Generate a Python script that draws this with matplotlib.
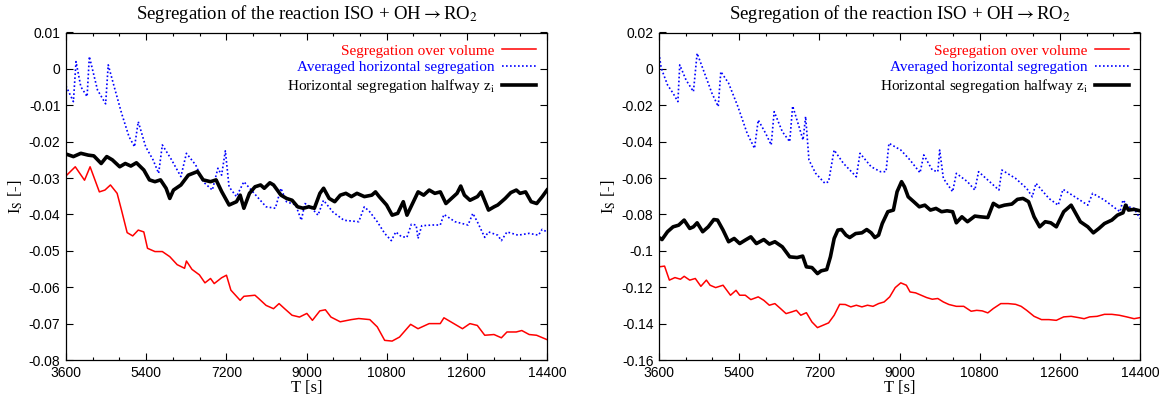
import matplotlib
matplotlib.use("Agg")
import matplotlib.pyplot as plt
from matplotlib.ticker import MultipleLocator, FuncFormatter

# fonts: Times-like serif for text, Arial-like sans for tick labels
plt.rcParams['font.family'] = ['Liberation Serif', 'DejaVu Serif']
plt.rcParams['mathtext.fontset'] = 'stix'
plt.rcParams['axes.unicode_minus'] = False

# ---------------- left panel data ----------------
t_red_l = [3600, 3808, 4016, 4141, 4349, 4474, 4598, 4748, 4848, 4973, 5098, 5222, 5347, 5430,
           5597, 5763, 5930, 6096, 6262, 6304, 6429, 6595, 6720, 6845, 6928, 7094, 7203, 7302,
           7510, 7594, 7843, 7926, 8093, 8259, 8384, 8509, 8675, 8842, 9008, 9133, 9299, 9424,
           9549, 9757, 10006, 10173, 10422, 10589, 10755, 10922, 11088, 11338, 11504, 11754,
           12003, 12086, 12336, 12502, 12669, 12835, 13002, 13210, 13376, 13501, 13709, 13834,
           14000, 14166, 14400]
v_red_l = [-0.0294, -0.0269, -0.0306, -0.0269, -0.0338, -0.0333, -0.0319, -0.0342, -0.0389,
           -0.0450, -0.0459, -0.0443, -0.0448, -0.0493, -0.0502, -0.0502, -0.0516, -0.0538,
           -0.0548, -0.0528, -0.0551, -0.0566, -0.0588, -0.0576, -0.0590, -0.0574, -0.0567,
           -0.0608, -0.0636, -0.0625, -0.0622, -0.0631, -0.0650, -0.0659, -0.0645, -0.0659,
           -0.0677, -0.0682, -0.0672, -0.0691, -0.0665, -0.0662, -0.0682, -0.0695, -0.0689,
           -0.0686, -0.0689, -0.0709, -0.0746, -0.0748, -0.0737, -0.0702, -0.0714, -0.0700,
           -0.0700, -0.0684, -0.0702, -0.0714, -0.0700, -0.0705, -0.0732, -0.0730, -0.0739,
           -0.0723, -0.0723, -0.0719, -0.0730, -0.0732, -0.0744]

t_blue_l = [3600, 3766, 3825, 3933, 4074, 4124, 4307, 4490, 4548, 4682, 4848, 5014, 5139, 5222,
            5389, 5555, 5680, 5763, 5971, 6179, 6304, 6512, 6678, 6886, 7011, 7094, 7178, 7261,
            7427, 7594, 7760, 7926, 8093, 8301, 8426, 8550, 8758, 8883, 8966, 9091, 9258, 9382,
            9590, 9840, 10173, 10298, 10422, 10589, 10755, 10905, 11005, 11130, 11254, 11354,
            11462, 11504, 11587, 11837, 12003, 12086, 12336, 12627, 12735, 12835, 13002, 13085,
            13293, 13376, 13501, 13750, 14000, 14208, 14291, 14400]
v_blue_l = [-0.0047, -0.0090, 0.0020, -0.0049, -0.0076, 0.0034, -0.0058, -0.0096, 0.0011,
            -0.0049, -0.0122, -0.0186, -0.0214, -0.0145, -0.0214, -0.0250, -0.0287, -0.0209,
            -0.0250, -0.0296, -0.0232, -0.0264, -0.0310, -0.0333, -0.0273, -0.0292, -0.0225,
            -0.0324, -0.0351, -0.0310, -0.0333, -0.0356, -0.0379, -0.0383, -0.0328, -0.0365,
            -0.0374, -0.0416, -0.0370, -0.0379, -0.0402, -0.0361, -0.0393, -0.0416, -0.0420,
            -0.0379, -0.0393, -0.0420, -0.0452, -0.0472, -0.0448, -0.0461, -0.0463, -0.0427,
            -0.0429, -0.0466, -0.0431, -0.0429, -0.0429, -0.0400, -0.0420, -0.0429, -0.0397,
            -0.0420, -0.0463, -0.0448, -0.0457, -0.0472, -0.0448, -0.0457, -0.0452, -0.0457,
            -0.0441, -0.0448]

t_blk_l = [3600, 3766, 3933, 4099, 4224, 4390, 4515, 4640, 4806, 4931, 5056, 5181, 5348, 5473,
           5597, 5722, 5847, 5930, 6013, 6180, 6346, 6554, 6679, 6845, 6970, 7095, 7262, 7428,
           7511, 7594, 7719, 7844, 7969, 8052, 8177, 8260, 8427, 8552, 8676, 8801, 8926, 9051,
           9176, 9301, 9384, 9509, 9634, 9759, 9884, 10008, 10133, 10299, 10466, 10549, 10632,
           10798, 10923, 11048, 11173, 11256, 11381, 11506, 11631, 11756, 11881, 12005, 12130,
           12255, 12380, 12463, 12546, 12671, 12838, 12921, 13087, 13212, 13295, 13462, 13587,
           13711, 13795, 13919, 14044, 14169, 14294, 14400]
v_blk_l = [-0.0234, -0.0241, -0.0232, -0.0237, -0.0239, -0.0260, -0.0241, -0.0250, -0.0269,
           -0.0260, -0.0267, -0.0258, -0.0278, -0.0305, -0.0310, -0.0305, -0.0328, -0.0356,
           -0.0333, -0.0319, -0.0292, -0.0282, -0.0305, -0.0310, -0.0305, -0.0337, -0.0374,
           -0.0365, -0.0347, -0.0383, -0.0342, -0.0324, -0.0319, -0.0328, -0.0313, -0.0319,
           -0.0347, -0.0356, -0.0361, -0.0379, -0.0383, -0.0379, -0.0383, -0.0342, -0.0328,
           -0.0356, -0.0365, -0.0347, -0.0342, -0.0351, -0.0342, -0.0351, -0.0347, -0.0338,
           -0.0351, -0.0374, -0.0402, -0.0397, -0.0365, -0.0402, -0.0370, -0.0338, -0.0347,
           -0.0333, -0.0342, -0.0338, -0.0370, -0.0356, -0.0342, -0.0322, -0.0347, -0.0361,
           -0.0351, -0.0338, -0.0388, -0.0379, -0.0374, -0.0356, -0.0340, -0.0333, -0.0342,
           -0.0338, -0.0365, -0.0370, -0.0351, -0.0333]

# ---------------- right panel data ----------------
t_red_r = [3600, 3725, 3833, 3958, 4082, 4165, 4290, 4415, 4540, 4664, 4747, 4872, 5038, 5205,
           5329, 5412, 5537, 5662, 5828, 5953, 6078, 6202, 6327, 6452, 6576, 6685, 6784, 6909,
           7034, 7158, 7283, 7408, 7533, 7657, 7782, 7907, 8031, 8156, 8281, 8405, 8530, 8655,
           8780, 8904, 9029, 9154, 9237, 9362, 9486, 9611, 9736, 9860, 9985, 10110, 10276,
           10442, 10609, 10733, 10858, 10983, 11107, 11274, 11440, 11607, 11731, 11856, 12022,
           12188, 12355, 12521, 12687, 12854, 13020, 13145, 13270, 13436, 13602, 13768, 13934,
           14100, 14267, 14400]
v_red_r = [-0.1088, -0.1084, -0.1161, -0.1147, -0.1156, -0.1140, -0.1161, -0.1152, -0.1195,
           -0.1161, -0.1189, -0.1202, -0.1189, -0.1244, -0.1217, -0.1244, -0.1244, -0.1268,
           -0.1253, -0.1272, -0.1299, -0.1290, -0.1317, -0.1345, -0.1336, -0.1327, -0.1354,
           -0.1340, -0.1391, -0.1422, -0.1409, -0.1396, -0.1354, -0.1294, -0.1295, -0.1308,
           -0.1299, -0.1308, -0.1299, -0.1305, -0.1290, -0.1281, -0.1253, -0.1202, -0.1176,
           -0.1189, -0.1226, -0.1231, -0.1244, -0.1257, -0.1266, -0.1262, -0.1281, -0.1295,
           -0.1305, -0.1305, -0.1332, -0.1327, -0.1330, -0.1341, -0.1317, -0.1290, -0.1290,
           -0.1294, -0.1305, -0.1327, -0.1360, -0.1378, -0.1378, -0.1382, -0.1363, -0.1360,
           -0.1367, -0.1373, -0.1363, -0.1360, -0.1349, -0.1349, -0.1354, -0.1363, -0.1373,
           -0.1367]

t_blue_r = [3600, 3650, 3791, 3916, 4024, 4066, 4207, 4373, 4456, 4623, 4789, 4930, 4988, 5163,
            5371, 5579, 5745, 5828, 5994, 6119, 6186, 6369, 6535, 6601, 6743, 6834, 6892, 6967,
            7117, 7325, 7408, 7532, 7740, 8031, 8114, 8364, 8572, 8697, 8763, 9029, 9237, 9461,
            9545, 9736, 9860, 9902, 9985, 10193, 10276, 10526, 10692, 10775, 11024, 11232,
            11299, 11607, 11856, 11981, 12064, 12355, 12563, 12671, 12937, 13228, 13336, 13602,
            13851, 13951, 14018, 14142, 14267, 14400]
v_blue_r = [0.0086, 0.0004, -0.0088, -0.0134, -0.0180, 0.0022, -0.0061, -0.0125, 0.0086,
            -0.0024, -0.0134, -0.0207, -0.0015, -0.0079, -0.0207, -0.0354, -0.0437, -0.0281,
            -0.0354, -0.0418, -0.0235, -0.0345, -0.0400, -0.0204, -0.0317, -0.0391, -0.0262,
            -0.0501, -0.0574, -0.0629, -0.0620, -0.0446, -0.0519, -0.0593, -0.0464, -0.0538,
            -0.0565, -0.0565, -0.0409, -0.0446, -0.0501, -0.0571, -0.0473, -0.0556, -0.0565,
            -0.0446, -0.0602, -0.0675, -0.0574, -0.0620, -0.0666, -0.0565, -0.0620, -0.0666,
            -0.0556, -0.0602, -0.0657, -0.0703, -0.0629, -0.0712, -0.0749, -0.0662, -0.0703,
            -0.0749, -0.0684, -0.0721, -0.0767, -0.0785, -0.0721, -0.0758, -0.0767, -0.0822]

t_blk_r = [3600, 3667, 3791, 3916, 4041, 4165, 4290, 4373, 4456, 4581, 4706, 4831, 4914, 5038,
           5163, 5288, 5412, 5537, 5662, 5787, 5953, 6078, 6202, 6369, 6535, 6701, 6826, 6909,
           7034, 7158, 7241, 7366, 7449, 7533, 7616, 7699, 7799, 7882, 8015, 8156, 8264, 8364,
           8447, 8530, 8613, 8738, 8863, 8946, 9046, 9112, 9195, 9320, 9445, 9569, 9694, 9819,
           9944, 10068, 10193, 10276, 10401, 10526, 10692, 10817, 10983, 11107, 11232, 11357,
           11523, 11648, 11773, 11898, 12022, 12147, 12272, 12396, 12521, 12687, 12854, 13061,
           13228, 13353, 13478, 13602, 13768, 13893, 14018, 14076, 14142, 14267, 14400]
v_blk_r = [-0.0927, -0.0938, -0.0895, -0.0868, -0.0859, -0.0831, -0.0877, -0.0868, -0.0846,
           -0.0895, -0.0868, -0.0828, -0.0831, -0.0886, -0.0950, -0.0932, -0.0960, -0.0941,
           -0.0923, -0.0960, -0.0938, -0.0963, -0.0950, -0.0978, -0.1033, -0.1037, -0.1029,
           -0.1088, -0.1092, -0.1125, -0.1110, -0.1103, -0.1033, -0.0932, -0.0886, -0.0883,
           -0.0914, -0.0927, -0.0905, -0.0901, -0.0883, -0.0901, -0.0927, -0.0914, -0.0850,
           -0.0785, -0.0776, -0.0675, -0.0620, -0.0648, -0.0703, -0.0730, -0.0758, -0.0749,
           -0.0776, -0.0767, -0.0785, -0.0780, -0.0785, -0.0846, -0.0813, -0.0840, -0.0809,
           -0.0813, -0.0817, -0.0739, -0.0758, -0.0749, -0.0743, -0.0717, -0.0712, -0.0730,
           -0.0813, -0.0868, -0.0840, -0.0846, -0.0868, -0.0785, -0.0749, -0.0840, -0.0868,
           -0.0901, -0.0877, -0.0850, -0.0831, -0.0804, -0.0791, -0.0749, -0.0776, -0.0772,
           -0.0780]

title = 'Segregation of the reaction ISO + OH$\\rightarrow$RO$_2$'
labels = ['Segregation over volume', 'Averaged horizontal segregation',
          'Horizontal segregation halfway z$_\\mathrm{i}$']
xticks = [3600, 5400, 7200, 9000, 10800, 12600, 14400]

fig = plt.figure(figsize=(11.63, 3.94), dpi=100)
ax_l = fig.add_axes([66/1163, 34/394, 481/1163, 327.5/394])
ax_r = fig.add_axes([659/1163, 34/394, 481/1163, 327.5/394])

panels = [
    (ax_l, (t_red_l, v_red_l), (t_blue_l, v_blue_l), (t_blk_l, v_blk_l), (-0.08, 0.01), 0.01),
    (ax_r, (t_red_r, v_red_r), (t_blue_r, v_blue_r), (t_blk_r, v_blk_r), (-0.16, 0.02), 0.02),
]

for ax, red, blue, blk, ylim, ystep in panels:
    ax.plot(red[0], red[1], color='#ff0000', lw=1.1, label=labels[0])
    ax.plot(blue[0], blue[1], color='#0000ff', lw=1.2, ls=(0, (1, 1.4)), label=labels[1])
    ax.plot(blk[0], blk[1], color='black', lw=2.6, label=labels[2])

    ax.set_xlim(3600, 14400)
    ax.set_ylim(*ylim)
    ax.set_xticks(xticks)
    ax.xaxis.set_minor_locator(MultipleLocator(600))
    ax.yaxis.set_major_locator(MultipleLocator(ystep))
    ax.yaxis.set_major_formatter(FuncFormatter(lambda v, p: '%g' % round(v, 3)))

    ax.tick_params(which='both', direction='in', top=True, right=True, colors='black')
    ax.tick_params(which='major', length=5, width=0.8, pad=4)
    ax.tick_params(which='minor', length=2.5, width=0.8)
    for lab in ax.get_xticklabels() + ax.get_yticklabels():
        lab.set_family('Liberation Sans')
        lab.set_fontsize(10)
    for sp in ax.spines.values():
        sp.set_linewidth(0.9)

    ax.set_title(title, fontsize=13.5, pad=10)
    ax.set_xlabel('T [s]', fontsize=12, labelpad=0)
    ax.set_ylabel('I$_\\mathrm{S}$ [-]', fontsize=12, labelpad=3)

    leg = ax.legend(loc='upper right', frameon=False, markerfirst=False, fontsize=11,
                    handlelength=2.2, handletextpad=0.5, labelspacing=0.18,
                    borderaxespad=0.35)
    for txt, c in zip(leg.get_texts(), ['#ff0000', '#0000ff', 'black']):
        txt.set_color(c)

fig.savefig('out.png', dpi=100)
